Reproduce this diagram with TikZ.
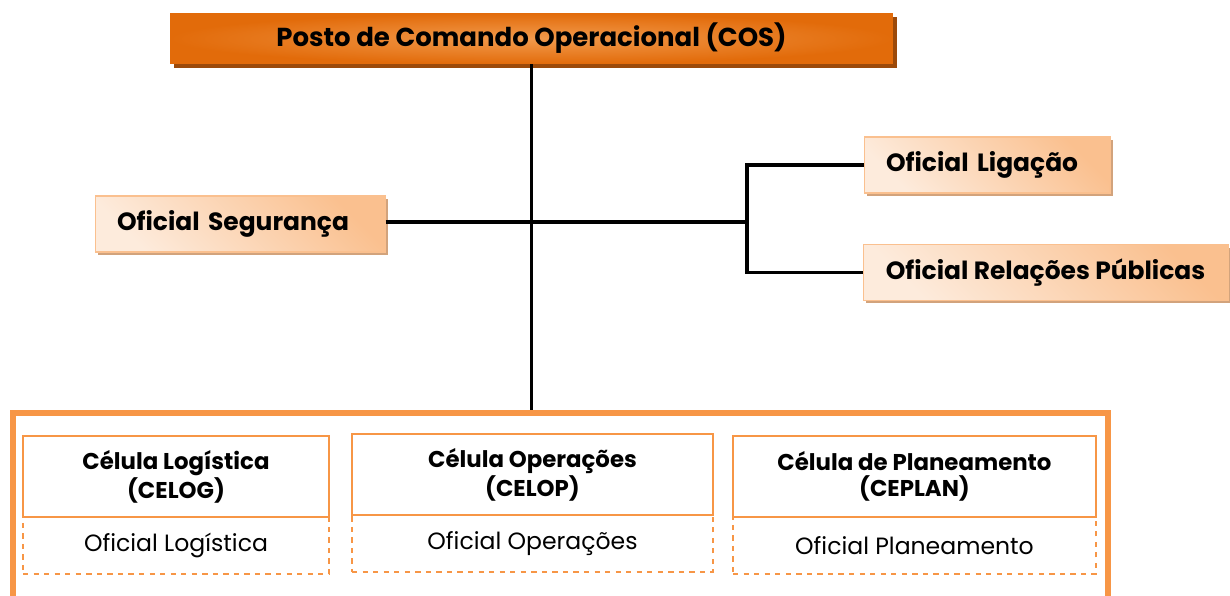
\documentclass[tikz,border=0pt]{standalone}
\usepackage{fontspec}
\setmainfont{Poppins}
\usetikzlibrary{shadows}
\definecolor{cosdark}{HTML}{E26B0A}
\definecolor{coslight}{HTML}{F29A4C}
\definecolor{cosshadow}{HTML}{9C4A0A}
\definecolor{peach}{HTML}{FAC08F}
\definecolor{peachlight}{HTML}{FDEBDC}
\definecolor{peachshadow}{HTML}{D2A37C}
\definecolor{framecol}{HTML}{F79646}
\tikzstyle{cosbox} = [rectangle, minimum width=14.46cm, minimum height=1.02cm, inner color=coslight, outer color=cosdark, drop shadow={shadow xshift=0.08cm, shadow yshift=-0.08cm, fill=cosshadow, opacity=1}, font=\bfseries\fontsize{14.8}{17}\selectfont]
\tikzstyle{offbox} = [rectangle, draw=peach, line width=0.6pt, minimum height=1.12cm, inner xsep=0.44cm, align=left, top color=peach, bottom color=peachlight, shading angle=-45, drop shadow={shadow xshift=0.06cm, shadow yshift=-0.06cm, fill=peachshadow, opacity=1}, font=\bfseries\fontsize{14.2}{16}\selectfont]
\tikzstyle{cell} = [rectangle, draw=framecol, line width=1.1pt, minimum height=1.62cm, align=center, font=\bfseries\fontsize{13}{15}\selectfont]
\tikzstyle{officer} = [rectangle, draw=framecol, dashed, line width=0.8pt, minimum height=1.14cm, font=\fontsize{13.4}{15}\selectfont]
\tikzstyle{link} = [line width=2.1pt]
\tikzstyle{frame} = [draw=framecol, line width=3.4pt]

\begin{document}
\begin{tikzpicture}[x=0.02cm, y=-0.02cm]
    \useasboundingbox (0,0) rectangle (1230,595);
    \draw (531.5,38.5) node[cosbox] (cos) {Posto de Comando Operacional (COS)};
    \draw (240,224) node[offbox, text width=4.92cm] (seg) {Oficial Segurança};
    \draw (987,165) node[offbox, text width=4.04cm] (lig) {Oficial Ligação};
    \draw (1045.5,272.5) node[offbox, minimum width=7.3cm, inner xsep=0pt] (rp) {Oficial Relações Públicas};
    \coordinate (junc) at (747,222);
    \coordinate (frtop) at (531.5,413);
    \draw[link] (cos.south) -- (frtop);
    \draw[link] (seg.east |- junc) -- (junc);
    \draw[link] (lig.west) -| (junc) |- (rp.west);
    \draw[frame] (13,600) -- (13,413) -- (1108,413) -- (1108,600);
    \draw (176,476.5) node[cell, minimum width=6.12cm] (celog) {Célula Logística\\(CELOG)};
    \draw (176,545.5) node[officer, minimum width=6.12cm] (oflog) {Oficial Logística};
    \draw (532.5,474.5) node[cell, minimum width=7.22cm] (celop) {Célula Operações\\(CELOP)};
    \draw (532.5,543.5) node[officer, minimum width=7.22cm] (ofop) {Oficial Operações};
    \draw (914.5,476.5) node[cell, minimum width=7.26cm] (ceplan) {Célula de Planeamento\\(CEPLAN)};
    \draw (914.5,545.5) node[officer, minimum width=7.26cm] (ofplan) {Oficial Planeamento};
\end{tikzpicture}
\end{document}
